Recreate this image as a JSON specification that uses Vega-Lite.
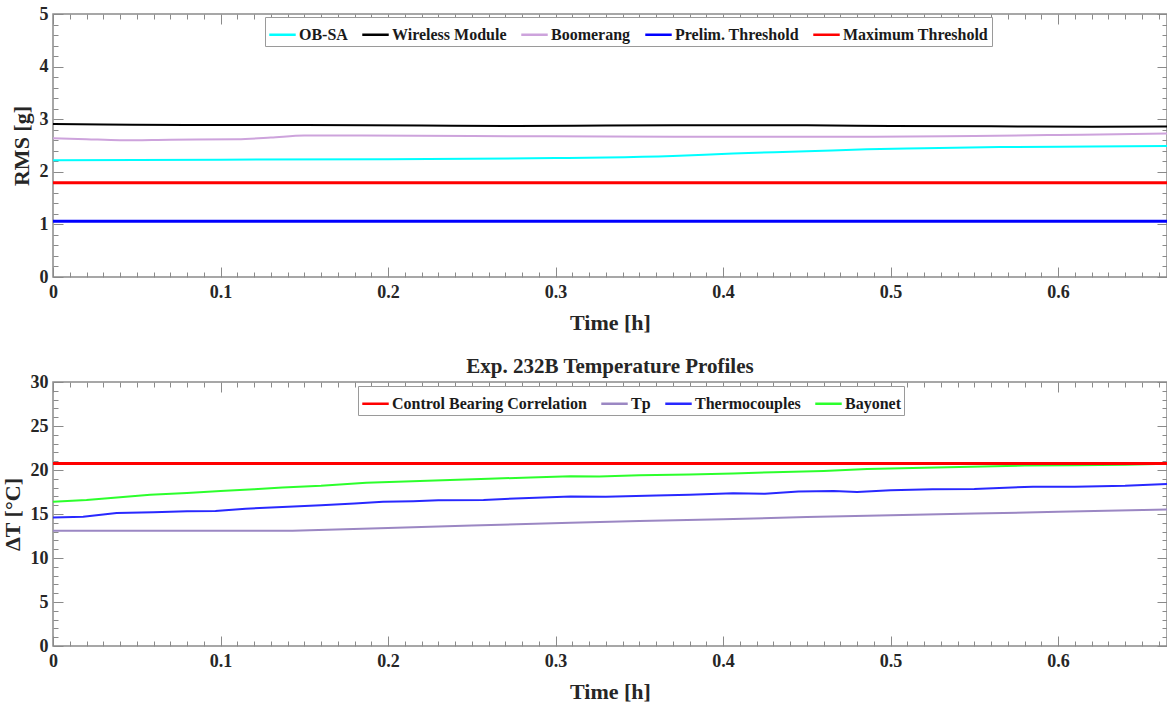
{
  "$schema": "https://vega.github.io/schema/vega-lite/v6.json",
  "background": "white",
  "padding": {"left": 0, "top": 4, "right": 0, "bottom": 0},
  "spacing": 21,
  "resolve": {"scale": {"color": "independent"}, "legend": {"color": "independent"}},
  "datasets": {
    "vib": [
      {"t": 0, "v": 2.91, "s": "Wireless Module"},
      {"t": 0.03, "v": 2.90, "s": "Wireless Module"},
      {"t": 0.08, "v": 2.89, "s": "Wireless Module"},
      {"t": 0.15, "v": 2.89, "s": "Wireless Module"},
      {"t": 0.22, "v": 2.88, "s": "Wireless Module"},
      {"t": 0.27, "v": 2.87, "s": "Wireless Module"},
      {"t": 0.33, "v": 2.88, "s": "Wireless Module"},
      {"t": 0.4, "v": 2.885, "s": "Wireless Module"},
      {"t": 0.45, "v": 2.885, "s": "Wireless Module"},
      {"t": 0.5, "v": 2.87, "s": "Wireless Module"},
      {"t": 0.56, "v": 2.865, "s": "Wireless Module"},
      {"t": 0.62, "v": 2.855, "s": "Wireless Module"},
      {"t": 0.665, "v": 2.86, "s": "Wireless Module"},
      {"t": 0, "v": 2.64, "s": "Boomerang"},
      {"t": 0.02, "v": 2.62, "s": "Boomerang"},
      {"t": 0.04, "v": 2.60, "s": "Boomerang"},
      {"t": 0.07, "v": 2.61, "s": "Boomerang"},
      {"t": 0.11, "v": 2.62, "s": "Boomerang"},
      {"t": 0.13, "v": 2.65, "s": "Boomerang"},
      {"t": 0.15, "v": 2.69, "s": "Boomerang"},
      {"t": 0.17, "v": 2.69, "s": "Boomerang"},
      {"t": 0.25, "v": 2.68, "s": "Boomerang"},
      {"t": 0.33, "v": 2.67, "s": "Boomerang"},
      {"t": 0.4, "v": 2.665, "s": "Boomerang"},
      {"t": 0.49, "v": 2.665, "s": "Boomerang"},
      {"t": 0.55, "v": 2.68, "s": "Boomerang"},
      {"t": 0.6, "v": 2.70, "s": "Boomerang"},
      {"t": 0.665, "v": 2.73, "s": "Boomerang"},
      {"t": 0, "v": 2.22, "s": "OB-SA"},
      {"t": 0.1, "v": 2.23, "s": "OB-SA"},
      {"t": 0.2, "v": 2.24, "s": "OB-SA"},
      {"t": 0.3, "v": 2.26, "s": "OB-SA"},
      {"t": 0.33, "v": 2.27, "s": "OB-SA"},
      {"t": 0.37, "v": 2.30, "s": "OB-SA"},
      {"t": 0.406, "v": 2.35, "s": "OB-SA"},
      {"t": 0.45, "v": 2.39, "s": "OB-SA"},
      {"t": 0.486, "v": 2.43, "s": "OB-SA"},
      {"t": 0.52, "v": 2.45, "s": "OB-SA"},
      {"t": 0.565, "v": 2.47, "s": "OB-SA"},
      {"t": 0.62, "v": 2.48, "s": "OB-SA"},
      {"t": 0.665, "v": 2.49, "s": "OB-SA"}
    ],
    "vibThr": [
      {"t": 0, "v": 1.06, "s": "Prelim. Threshold"},
      {"t": 0.665, "v": 1.06, "s": "Prelim. Threshold"},
      {"t": 0, "v": 1.79, "s": "Maximum Threshold"},
      {"t": 0.665, "v": 1.79, "s": "Maximum Threshold"}
    ],
    "temp": [
      {"t": 0, "v": 13.1, "s": "Tp"},
      {"t": 0.05, "v": 13.1, "s": "Tp"},
      {"t": 0.1, "v": 13.1, "s": "Tp"},
      {"t": 0.143, "v": 13.1, "s": "Tp"},
      {"t": 0.2, "v": 13.4, "s": "Tp"},
      {"t": 0.25, "v": 13.7, "s": "Tp"},
      {"t": 0.309, "v": 14.0, "s": "Tp"},
      {"t": 0.35, "v": 14.2, "s": "Tp"},
      {"t": 0.4, "v": 14.4, "s": "Tp"},
      {"t": 0.45, "v": 14.65, "s": "Tp"},
      {"t": 0.486, "v": 14.8, "s": "Tp"},
      {"t": 0.55, "v": 15.05, "s": "Tp"},
      {"t": 0.6, "v": 15.25, "s": "Tp"},
      {"t": 0.665, "v": 15.5, "s": "Tp"},
      {"t": 0, "v": 14.6, "s": "Thermocouples"},
      {"t": 0.018, "v": 14.7, "s": "Thermocouples"},
      {"t": 0.038, "v": 15.1, "s": "Thermocouples"},
      {"t": 0.06, "v": 15.2, "s": "Thermocouples"},
      {"t": 0.08, "v": 15.3, "s": "Thermocouples"},
      {"t": 0.097, "v": 15.35, "s": "Thermocouples"},
      {"t": 0.115, "v": 15.6, "s": "Thermocouples"},
      {"t": 0.137, "v": 15.8, "s": "Thermocouples"},
      {"t": 0.16, "v": 16.0, "s": "Thermocouples"},
      {"t": 0.18, "v": 16.2, "s": "Thermocouples"},
      {"t": 0.197, "v": 16.4, "s": "Thermocouples"},
      {"t": 0.215, "v": 16.45, "s": "Thermocouples"},
      {"t": 0.23, "v": 16.55, "s": "Thermocouples"},
      {"t": 0.257, "v": 16.6, "s": "Thermocouples"},
      {"t": 0.28, "v": 16.8, "s": "Thermocouples"},
      {"t": 0.309, "v": 17.0, "s": "Thermocouples"},
      {"t": 0.33, "v": 16.95, "s": "Thermocouples"},
      {"t": 0.36, "v": 17.1, "s": "Thermocouples"},
      {"t": 0.38, "v": 17.2, "s": "Thermocouples"},
      {"t": 0.406, "v": 17.35, "s": "Thermocouples"},
      {"t": 0.425, "v": 17.3, "s": "Thermocouples"},
      {"t": 0.445, "v": 17.55, "s": "Thermocouples"},
      {"t": 0.466, "v": 17.6, "s": "Thermocouples"},
      {"t": 0.48, "v": 17.5, "s": "Thermocouples"},
      {"t": 0.5, "v": 17.7, "s": "Thermocouples"},
      {"t": 0.525, "v": 17.8, "s": "Thermocouples"},
      {"t": 0.55, "v": 17.85, "s": "Thermocouples"},
      {"t": 0.585, "v": 18.1, "s": "Thermocouples"},
      {"t": 0.61, "v": 18.1, "s": "Thermocouples"},
      {"t": 0.64, "v": 18.2, "s": "Thermocouples"},
      {"t": 0.665, "v": 18.4, "s": "Thermocouples"},
      {"t": 0, "v": 16.4, "s": "Bayonet"},
      {"t": 0.02, "v": 16.6, "s": "Bayonet"},
      {"t": 0.04, "v": 16.9, "s": "Bayonet"},
      {"t": 0.058, "v": 17.2, "s": "Bayonet"},
      {"t": 0.08, "v": 17.4, "s": "Bayonet"},
      {"t": 0.1, "v": 17.6, "s": "Bayonet"},
      {"t": 0.12, "v": 17.8, "s": "Bayonet"},
      {"t": 0.137, "v": 18.0, "s": "Bayonet"},
      {"t": 0.16, "v": 18.2, "s": "Bayonet"},
      {"t": 0.187, "v": 18.55, "s": "Bayonet"},
      {"t": 0.21, "v": 18.7, "s": "Bayonet"},
      {"t": 0.237, "v": 18.86, "s": "Bayonet"},
      {"t": 0.26, "v": 19.0, "s": "Bayonet"},
      {"t": 0.285, "v": 19.15, "s": "Bayonet"},
      {"t": 0.309, "v": 19.3, "s": "Bayonet"},
      {"t": 0.326, "v": 19.25, "s": "Bayonet"},
      {"t": 0.35, "v": 19.4, "s": "Bayonet"},
      {"t": 0.38, "v": 19.5, "s": "Bayonet"},
      {"t": 0.406, "v": 19.6, "s": "Bayonet"},
      {"t": 0.43, "v": 19.75, "s": "Bayonet"},
      {"t": 0.46, "v": 19.9, "s": "Bayonet"},
      {"t": 0.486, "v": 20.1, "s": "Bayonet"},
      {"t": 0.52, "v": 20.25, "s": "Bayonet"},
      {"t": 0.555, "v": 20.4, "s": "Bayonet"},
      {"t": 0.58, "v": 20.5, "s": "Bayonet"},
      {"t": 0.61, "v": 20.55, "s": "Bayonet"},
      {"t": 0.64, "v": 20.6, "s": "Bayonet"},
      {"t": 0.665, "v": 20.7, "s": "Bayonet"}
    ],
    "tempThr": [
      {"t": 0, "v": 20.75, "s": "Control Bearing Correlation"},
      {"t": 0.665, "v": 20.75, "s": "Control Bearing Correlation"}
    ]
  },
  "vconcat": [
    {
      "width": 1114,
      "height": 263,
      "resolve": {"axis": {"x": "independent", "y": "independent"}},
      "layer": [
        {
          "data": {"name": "vib"},
          "mark": {"type": "line", "strokeWidth": 2, "interpolate": "monotone"},
          "encoding": {
            "x": {"field": "t", "type": "quantitative",
              "scale": {"domain": [0, 0.665], "nice": false, "zero": false},
              "axis": {"orient": "bottom", "title": "Time [h]",
                "values": [0,0.01,0.02,0.03,0.04,0.05,0.06,0.07,0.08,0.09,0.1,0.11,0.12,0.13,0.14,0.15,0.16,0.17,0.18,0.19,0.2,0.21,0.22,0.23,0.24,0.25,0.26,0.27,0.28,0.29,0.3,0.31,0.32,0.33,0.34,0.35,0.36,0.37,0.38,0.39,0.4,0.41,0.42,0.43,0.44,0.45,0.46,0.47,0.48,0.49,0.5,0.51,0.52,0.53,0.54,0.55,0.56,0.57,0.58,0.59,0.6,0.61,0.62,0.63,0.64,0.65,0.66],
                "labelExpr": "abs(datum.value*10 - round(datum.value*10)) < 0.001 ? (datum.value == 0 ? '0' : format(datum.value, '.1f')) : ''",
                "tickSize": {"condition": {"test": "abs(datum.value*10 - round(datum.value*10)) < 0.001", "value": -10}, "value": -5},
                "labelPadding": 16, "titlePadding": 6}},
            "y": {"field": "v", "type": "quantitative",
              "scale": {"domain": [0, 5], "nice": false},
              "axis": {"orient": "left", "title": "RMS [g]",
                "values": [0,0.2,0.4,0.6,0.8,1,1.2,1.4,1.6,1.8,2,2.2,2.4,2.6,2.8,3,3.2,3.4,3.6,3.8,4,4.2,4.4,4.6,4.8,5],
                "labelExpr": "abs(datum.value - round(datum.value)) < 0.001 ? format(round(datum.value), 'd') : ''",
                "tickSize": {"condition": {"test": "abs(datum.value - round(datum.value)) < 0.001", "value": -10}, "value": -5},
                "labelPadding": 15, "titlePadding": 6}},
            "color": {"field": "s", "type": "nominal",
              "scale": {"domain": ["OB-SA", "Wireless Module", "Boomerang", "Prelim. Threshold", "Maximum Threshold"],
                "range": ["#00FFFF", "#000000", "#CDA3DC", "#0000FF", "#FF0000"]},
              "legend": {"orient": "none", "legendX": 212, "legendY": 3, "direction": "horizontal", "title": null}}
          }
        },
        {
          "data": {"name": "vibThr"},
          "mark": {"type": "line", "strokeWidth": 3},
          "encoding": {
            "x": {"field": "t", "type": "quantitative",
              "axis": {"orient": "top", "title": null, "labels": false,
                "values": [0,0.01,0.02,0.03,0.04,0.05,0.06,0.07,0.08,0.09,0.1,0.11,0.12,0.13,0.14,0.15,0.16,0.17,0.18,0.19,0.2,0.21,0.22,0.23,0.24,0.25,0.26,0.27,0.28,0.29,0.3,0.31,0.32,0.33,0.34,0.35,0.36,0.37,0.38,0.39,0.4,0.41,0.42,0.43,0.44,0.45,0.46,0.47,0.48,0.49,0.5,0.51,0.52,0.53,0.54,0.55,0.56,0.57,0.58,0.59,0.6,0.61,0.62,0.63,0.64,0.65,0.66],
                "tickSize": {"condition": {"test": "abs(datum.value*10 - round(datum.value*10)) < 0.001", "value": -10}, "value": -5}}},
            "y": {"field": "v", "type": "quantitative",
              "axis": {"orient": "right", "title": null, "labels": false,
                "values": [0,0.2,0.4,0.6,0.8,1,1.2,1.4,1.6,1.8,2,2.2,2.4,2.6,2.8,3,3.2,3.4,3.6,3.8,4,4.2,4.4,4.6,4.8,5],
                "tickSize": {"condition": {"test": "abs(datum.value - round(datum.value)) < 0.001", "value": -10}, "value": -5}}},
            "color": {"field": "s", "type": "nominal"}
          }
        }
      ]
    },
    {
      "width": 1114,
      "height": 264,
      "title": {"text": "Exp. 232B Temperature Profiles", "offset": -4},
      "resolve": {"axis": {"x": "independent", "y": "independent"}},
      "layer": [
        {
          "data": {"name": "temp"},
          "mark": {"type": "line", "strokeWidth": 2},
          "encoding": {
            "x": {"field": "t", "type": "quantitative",
              "scale": {"domain": [0, 0.665], "nice": false, "zero": false},
              "axis": {"orient": "bottom", "title": "Time [h]",
                "values": [0,0.01,0.02,0.03,0.04,0.05,0.06,0.07,0.08,0.09,0.1,0.11,0.12,0.13,0.14,0.15,0.16,0.17,0.18,0.19,0.2,0.21,0.22,0.23,0.24,0.25,0.26,0.27,0.28,0.29,0.3,0.31,0.32,0.33,0.34,0.35,0.36,0.37,0.38,0.39,0.4,0.41,0.42,0.43,0.44,0.45,0.46,0.47,0.48,0.49,0.5,0.51,0.52,0.53,0.54,0.55,0.56,0.57,0.58,0.59,0.6,0.61,0.62,0.63,0.64,0.65,0.66],
                "labelExpr": "abs(datum.value*10 - round(datum.value*10)) < 0.001 ? (datum.value == 0 ? '0' : format(datum.value, '.1f')) : ''",
                "tickSize": {"condition": {"test": "abs(datum.value*10 - round(datum.value*10)) < 0.001", "value": -10}, "value": -5},
                "labelPadding": 16, "titlePadding": 6}},
            "y": {"field": "v", "type": "quantitative",
              "scale": {"domain": [0, 30], "nice": false},
              "axis": {"orient": "left", "title": "ΔT [°C]",
                "values": [0,1,2,3,4,5,6,7,8,9,10,11,12,13,14,15,16,17,18,19,20,21,22,23,24,25,26,27,28,29,30],
                "labelExpr": "datum.value % 5 == 0 ? format(datum.value, 'd') : ''",
                "tickSize": {"condition": {"test": "datum.value % 5 == 0", "value": -10}, "value": -5},
                "labelPadding": 15, "titlePadding": 6}},
            "color": {"field": "s", "type": "nominal",
              "scale": {"domain": ["Control Bearing Correlation", "Tp", "Thermocouples", "Bayonet"],
                "range": ["#FF0000", "#9B87C3", "#2828FF", "#2CFF2C"]},
              "legend": {"orient": "none", "legendX": 305, "legendY": 4, "direction": "horizontal", "title": null}}
          }
        },
        {
          "data": {"name": "tempThr"},
          "mark": {"type": "line", "strokeWidth": 3},
          "encoding": {
            "x": {"field": "t", "type": "quantitative",
              "axis": {"orient": "top", "title": null, "labels": false,
                "values": [0,0.01,0.02,0.03,0.04,0.05,0.06,0.07,0.08,0.09,0.1,0.11,0.12,0.13,0.14,0.15,0.16,0.17,0.18,0.19,0.2,0.21,0.22,0.23,0.24,0.25,0.26,0.27,0.28,0.29,0.3,0.31,0.32,0.33,0.34,0.35,0.36,0.37,0.38,0.39,0.4,0.41,0.42,0.43,0.44,0.45,0.46,0.47,0.48,0.49,0.5,0.51,0.52,0.53,0.54,0.55,0.56,0.57,0.58,0.59,0.6,0.61,0.62,0.63,0.64,0.65,0.66],
                "tickSize": {"condition": {"test": "abs(datum.value*10 - round(datum.value*10)) < 0.001", "value": -10}, "value": -5}}},
            "y": {"field": "v", "type": "quantitative",
              "axis": {"orient": "right", "title": null, "labels": false,
                "values": [0,1,2,3,4,5,6,7,8,9,10,11,12,13,14,15,16,17,18,19,20,21,22,23,24,25,26,27,28,29,30],
                "tickSize": {"condition": {"test": "datum.value % 5 == 0", "value": -10}, "value": -5}}},
            "color": {"field": "s", "type": "nominal"}
          }
        }
      ]
    }
  ],
  "config": {
    "font": "Liberation Serif",
    "view": {"stroke": "#8a8a8a", "strokeWidth": 1.5},
    "axis": {
      "domain": false, "grid": false,
      "tickColor": "#8a8a8a", "tickWidth": 1,
      "labelFont": "Liberation Serif", "labelFontWeight": "bold", "labelFontSize": 18, "labelColor": "#262626",
      "labelOverlap": false, "labelFlush": false,
      "titleFont": "Liberation Serif", "titleFontWeight": "bold", "titleFontSize": 22, "titleColor": "#262626"
    },
    "legend": {
      "symbolType": "stroke", "symbolSize": 700, "symbolStrokeWidth": 2.5,
      "labelFont": "Liberation Serif", "labelFontWeight": "bold", "labelFontSize": 16, "labelColor": "#1a1a1a",
      "labelLimit": 0,
      "strokeColor": "#9a9a9a", "fillColor": "white", "padding": 3, "columnPadding": 9, "labelOffset": 2
    },
    "title": {"font": "Liberation Serif", "fontWeight": "bold", "fontSize": 21, "color": "#262626", "anchor": "middle"}
  }
}
